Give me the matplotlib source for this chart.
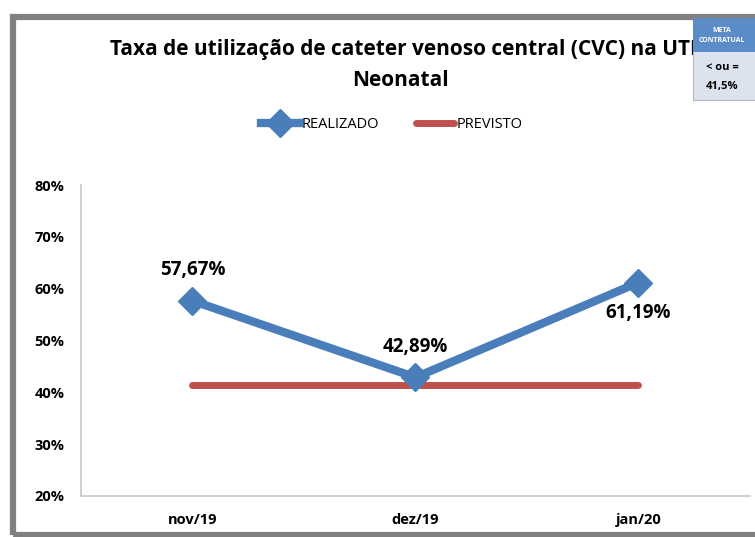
import matplotlib.pyplot as plt
from matplotlib.patches import Rectangle

months = ['nov/19', 'dez/19', 'jan/20']
realizado = [57.67, 42.89, 61.19]
previsto = [41.5, 41.5, 41.5]
labels = ['57,67%', '42,89%', '61,19%']
yticks = [20, 30, 40, 50, 60, 70, 80]

plt.rcParams['font.family'] = ['Open Sans', 'DejaVu Sans']

fig = plt.figure(figsize=(7.55, 5.37), dpi=100)
ax = fig.add_axes([0.1073, 0.0764, 0.886, 0.579])

x = range(len(months))
ax.plot(x, previsto, color='#C0504D', lw=5, solid_capstyle='round', label='PREVISTO', zorder=2)
ax.plot(x, realizado, color='#4A7EBB', lw=6, marker='D', markersize=14,
        label='REALIZADO', zorder=3)

offsets = [(0, 22), (0, 22), (0, -22)]
for i, (v, t) in enumerate(zip(realizado, labels)):
    ax.annotate(t, (i, v), xytext=offsets[i], textcoords='offset points',
                ha='center', va='center', fontsize=13.5, fontweight='bold')

ax.set_xlim(-0.5, 2.5)
ax.set_ylim(20, 80)
ax.set_xticks(list(x))
ax.set_xticklabels(months, fontsize=10.5, fontweight='bold')
ax.set_yticks(yticks)
ax.set_yticklabels([f'{v}%' for v in yticks], fontsize=10.5, fontweight='bold')
ax.tick_params(length=0, pad=12)
ax.tick_params(axis='x', pad=12)
for s in ['top', 'right']:
    ax.spines[s].set_visible(False)
for s in ['left', 'bottom']:
    ax.spines[s].set_color('#C8C8C8')
    ax.spines[s].set_linewidth(1.2)

h, l = ax.get_legend_handles_labels()
fig.legend(h[::-1], l[::-1], loc='center', bbox_to_anchor=(392 / 755, 1 - 125 / 537),
           ncol=2, frameon=False, fontsize=10.5, handlelength=2.6, columnspacing=2.5,
           handletextpad=0.2)

fig.text(403 / 755, 1 - 50 / 537, 'Taxa de utilização de cateter venoso central (CVC) na UTI',
         ha='center', va='center', fontsize=15, fontweight='bold')
fig.text(400 / 755, 1 - 80 / 537, 'Neonatal', ha='center', va='center',
         fontsize=15, fontweight='bold')

# outer grey frame
fig.patches.append(Rectangle((13 / 755, 2 / 537), 1.0, 1 - 19 / 537, transform=fig.transFigure,
                             fill=False, edgecolor='#808080', lw=4.5, zorder=0))

# meta contratual box
fig.patches.append(Rectangle((693 / 755, 1 - 100 / 537), 70 / 755, 82 / 537,
                             transform=fig.transFigure, facecolor='#DCE3EE',
                             edgecolor='#B0B8C8', lw=0.8, zorder=5))
fig.patches.append(Rectangle((693 / 755, 1 - 52 / 537), 70 / 755, 34 / 537,
                             transform=fig.transFigure, facecolor='#5B8CC8',
                             edgecolor='none', zorder=6))
fig.text(722 / 755, 1 - 30 / 537, 'META', ha='center', va='center', fontsize=5,
         color='white', fontweight='bold', zorder=7)
fig.text(722 / 755, 1 - 41 / 537, 'CONTRATUAL', ha='center', va='center', fontsize=5,
         color='white', fontweight='bold', zorder=7)
fig.text(722 / 755, 1 - 67 / 537, '< ou =', ha='center', va='center', fontsize=8,
         fontweight='bold', zorder=7)
fig.text(722 / 755, 1 - 87 / 537, '41,5%', ha='center', va='center', fontsize=8,
         fontweight='bold', zorder=7)

fig.savefig('out.png', dpi=100)
